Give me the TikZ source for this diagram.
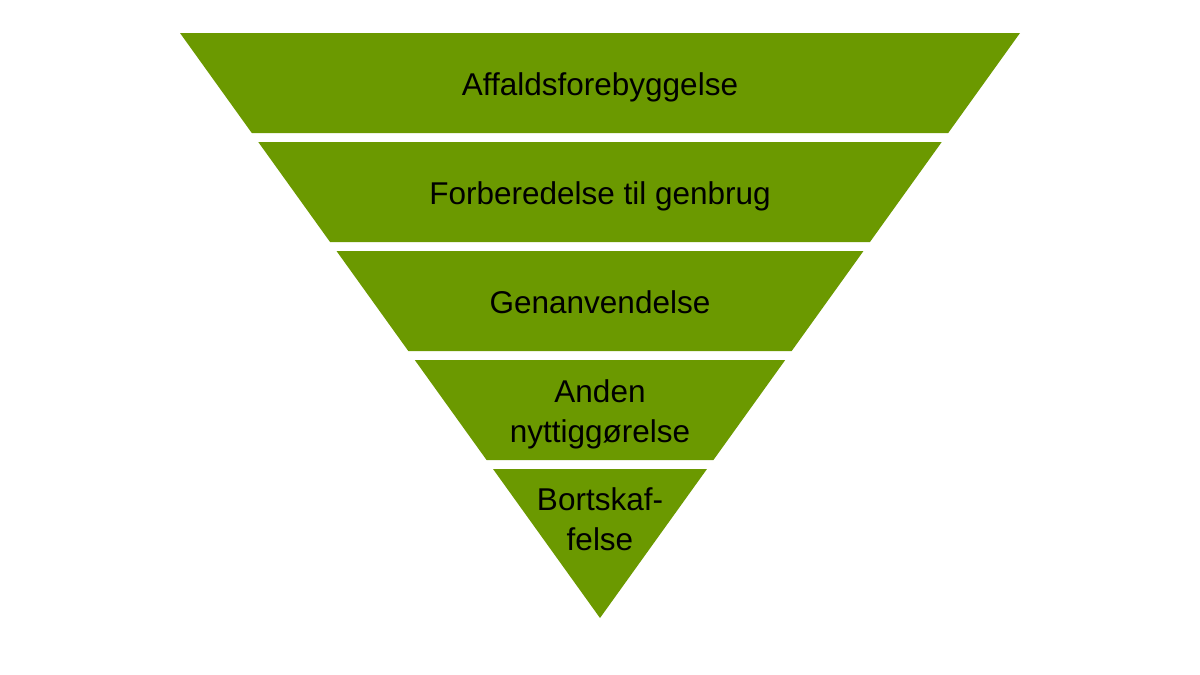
\documentclass[tikz,border=0pt]{standalone}
\usepackage{fontspec}
\setmainfont{Liberation Sans}
\definecolor{band}{RGB}{107,153,0}
\begin{document}
\begin{tikzpicture}[x=1pt,y=-1pt,
  bandfill/.style={fill=band,draw=none},
  lbl/.style={font=\fontsize{31.5}{40}\selectfont,text=black,align=center,inner sep=0pt,anchor=base}]
\useasboundingbox (0,0) rectangle (1200,675);
\fill[bandfill] (180,33) -- (1020,33) -- (948.21,133) -- (251.79,133) -- cycle;
\fill[bandfill] (258.26,142) -- (941.74,142) -- (869.95,242) -- (330.05,242) -- cycle;
\fill[bandfill] (336.51,251) -- (863.49,251) -- (791.69,351) -- (408.31,351) -- cycle;
\fill[bandfill] (414.77,360) -- (785.23,360) -- (713.44,460) -- (486.56,460) -- cycle;
\fill[bandfill] (493.03,469) -- (706.97,469) -- (600,618) -- cycle;
\node[lbl] (t1) at (600,95) {Affaldsforebyggelse};
\node[lbl] (t2) at (600,204) {Forberedelse til genbrug};
\node[lbl] (t3) at (600,313) {Genanvendelse};
\node[lbl] (t4) at (600,442.5) {Anden\\nyttiggørelse};
\node[lbl] (t5) at (600,550.5) {Bortskaf-\\felse};
\end{tikzpicture}
\end{document}
